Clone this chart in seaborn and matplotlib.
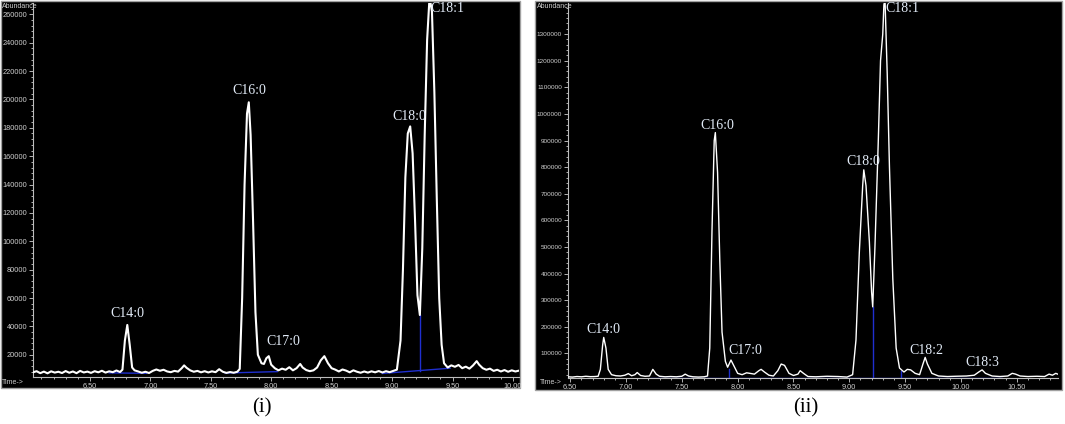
import matplotlib
matplotlib.use("Agg")
import matplotlib.pyplot as plt
from matplotlib.patches import Rectangle
from matplotlib.ticker import MultipleLocator, FixedLocator
import seaborn as sns
import pandas as pd

# ---- panel (i): trace (time in min, abundance) ----
left_time = [
    6.03, 6.06, 6.09, 6.12, 6.15, 6.18, 6.21, 6.24, 6.27, 6.30,
    6.33, 6.36, 6.39, 6.42, 6.45, 6.48, 6.51, 6.54, 6.57, 6.60,
    6.63, 6.66, 6.69, 6.72, 6.75, 6.77, 6.79, 6.81, 6.83, 6.85,
    6.87, 6.90, 6.93, 6.96, 6.99, 7.02, 7.05, 7.08, 7.11, 7.14,
    7.17, 7.20, 7.23, 7.26, 7.28, 7.30, 7.33, 7.36, 7.39, 7.42,
    7.45, 7.48, 7.51, 7.54, 7.57, 7.60, 7.63, 7.66, 7.69, 7.72,
    7.74, 7.76, 7.78, 7.80, 7.815, 7.83, 7.85, 7.87, 7.89, 7.92,
    7.94, 7.96, 7.98, 8.00, 8.03, 8.06, 8.09, 8.12, 8.15, 8.18,
    8.21, 8.24, 8.26, 8.29, 8.32, 8.35, 8.38, 8.41, 8.44, 8.47,
    8.50, 8.53, 8.56, 8.59, 8.62, 8.65, 8.68, 8.71, 8.74, 8.77,
    8.80, 8.83, 8.86, 8.89, 8.92, 8.95, 8.98, 9.01, 9.04, 9.07,
    9.09, 9.11, 9.13, 9.15, 9.17, 9.19, 9.21, 9.23, 9.25, 9.27,
    9.29, 9.31, 9.33, 9.35, 9.37, 9.39, 9.41, 9.43, 9.46, 9.49,
    9.52, 9.55, 9.58, 9.61, 9.64, 9.67, 9.70, 9.72, 9.75, 9.78,
    9.81, 9.84, 9.87, 9.90, 9.93, 9.96, 9.99, 10.02, 10.05,
]
left_abund = [
    7600, 8400, 7000, 8100, 6900, 8300, 7400, 8000, 7100, 8500,
    7300, 8200, 7000, 8600, 7500, 8100, 7200, 8400, 7600, 8700,
    7400, 8300, 7700, 8900, 7800, 9500, 30000, 41000, 27000, 11000,
    9000, 8200, 7300, 8000, 7100, 8600, 9600, 8700, 9400, 8200,
    7700, 8600, 8100, 10500, 12500, 10800, 9000, 8000, 8600, 7600,
    8400, 7500, 8300, 7700, 9800, 8000, 7200, 7800, 7300, 8000,
    10000, 60000, 140000, 190000, 198000, 175000, 115000, 50000, 20000, 14000,
    13500, 17500, 19000, 13000, 10500, 9000, 10200, 9400, 11200, 9000,
    10500, 13500, 11000, 9200, 8400, 9000, 11000, 16000, 19000, 14000,
    10500, 9500, 8200, 9600, 8800, 7600, 9000, 8000, 7300, 8200,
    7400, 8300, 7600, 8500, 7500, 8400, 7700, 8600, 9500, 30000,
    80000, 145000, 176000, 181000, 162000, 115000, 62000, 48000, 95000, 175000,
    242000, 272000, 262000, 205000, 130000, 60000, 27000, 14000, 11000, 12500,
    11500, 12800, 10500, 11600, 10200, 12500, 15500, 13000, 10500, 9400,
    10200, 8600, 9400, 8200, 9200, 8000, 9000, 8200, 8800,
]

# ---- panel (ii) ----
right_time = [
    6.48, 6.52, 6.56, 6.60, 6.64, 6.68, 6.72, 6.75, 6.77, 6.79,
    6.80, 6.82, 6.84, 6.87, 6.91, 6.95, 6.99, 7.02, 7.05, 7.08,
    7.10, 7.13, 7.17, 7.21, 7.24, 7.27, 7.30, 7.35, 7.40, 7.45,
    7.50, 7.53, 7.56, 7.60, 7.65, 7.70, 7.73, 7.75, 7.77, 7.79,
    7.80, 7.82, 7.84, 7.86, 7.89, 7.91, 7.94, 7.97, 8.00, 8.04,
    8.08, 8.11, 8.15, 8.19, 8.21, 8.24, 8.28, 8.32, 8.36, 8.39,
    8.42, 8.46, 8.50, 8.54, 8.56, 8.59, 8.63, 8.70, 8.80, 8.90,
    8.98, 9.03, 9.06, 9.09, 9.12, 9.13, 9.15, 9.18, 9.20, 9.21,
    9.23, 9.26, 9.28, 9.30, 9.31, 9.32, 9.34, 9.36, 9.39, 9.42,
    9.45, 9.49, 9.52, 9.55, 9.59, 9.63, 9.66, 9.68, 9.70, 9.74,
    9.80, 9.88, 9.95, 10.05, 10.12, 10.16, 10.19, 10.22, 10.28, 10.35,
    10.42, 10.46, 10.49, 10.53, 10.60, 10.68, 10.75, 10.79, 10.82, 10.85, 10.88,
]
right_abund = [
    12000, 11000, 13000, 12000, 14000, 12500, 13000, 14000, 40000, 130000,
    160000, 120000, 40000, 20000, 16000, 15000, 18000, 24000, 16000, 20000,
    28000, 17000, 14000, 15000, 40000, 22000, 14000, 12000, 13000, 12000,
    14000, 22000, 15000, 12000, 11000, 12000, 15000, 120000, 560000, 900000,
    930000, 780000, 450000, 180000, 70000, 48000, 75000, 50000, 25000, 20000,
    27000, 25000, 22000, 35000, 40000, 30000, 18000, 15000, 35000, 60000,
    55000, 25000, 17000, 22000, 35000, 25000, 13000, 12000, 14000, 13000,
    11000, 20000, 150000, 480000, 730000, 790000, 730000, 520000, 330000, 275000,
    500000, 900000, 1200000, 1300000, 1410000, 1430000, 1150000, 800000, 380000, 120000,
    45000, 30000, 40000, 38000, 25000, 20000, 60000, 85000, 60000, 25000,
    15000, 13000, 14000, 15000, 18000, 30000, 38000, 25000, 15000, 13000,
    15000, 25000, 22000, 15000, 13000, 14000, 13000, 22000, 18000, 25000, 20000,
]

# integration baselines (blue)
left_base_t = [[6.66, 6.97], [7.62, 8.05], [8.92, 9.48], [9.23, 9.23]]
left_base_y = [[7200, 6900], [7100, 8100], [6800, 10500], [8500, 48000]]
right_base_t = [[7.22, 10.37], [7.92, 7.92], [9.21, 9.21], [9.46, 9.46]]
right_base_y = [[9000, 9000], [9000, 42000], [9000, 275000], [9000, 32000]]

# peak labels
left_peaks = ["C14:0", "C16:0", "C17:0", "C18:0", "C18:1"]
left_label_t = [6.81, 7.82, 8.10, 9.14, 9.32]
left_label_y = [49000, 206000, 29000, 188000, 264000]
right_peaks = ["C14:0", "C16:0", "C17:0", "C18:0", "C18:1", "C18:2", "C18:3"]
right_label_t = [6.80, 7.82, 8.07, 9.13, 9.32, 9.69, 10.19]
right_label_y = [190000, 955000, 112000, 820000, 1395000, 112000, 65000]

W, H = 1065, 424
fig = plt.figure(figsize=(W / 100, H / 100), dpi=100)
fig.patch.set_facecolor("white")

tick_col = "#cfcfcf"
lab_col = "#e2ebf7"


def add_panel(box, ax_box, df, base_t, base_y, names, lt, ly,
              xlim, ylim, yticks, xticks, lw, ysize):
    x0, y0, x1, y1 = box
    fig.add_artist(Rectangle((x0 / W, 1 - y1 / H), (x1 - x0) / W, (y1 - y0) / H,
                             transform=fig.transFigure, facecolor="black",
                             edgecolor="#a0a0a0", linewidth=1, zorder=0))
    a0, b0, a1, b1 = ax_box
    ax = fig.add_axes([a0 / W, 1 - b1 / H, (a1 - a0) / W, (b1 - b0) / H])
    ax.set_facecolor("black")
    for bt, by in zip(base_t, base_y):
        ax.plot(bt, by, color="#1f2fd0", lw=1.0, zorder=2)
    sns.lineplot(data=df, x="time", y="abundance", ax=ax, color="white",
                 lw=lw, estimator=None, sort=False, zorder=3)
    for n, t, y in zip(names, lt, ly):
        ha = "left" if n == "C18:1" else "center"
        ax.text(t, y, n, ha=ha, va="center", color=lab_col, fontsize=10,
                family="Liberation Serif", zorder=4)
    ax.set_xlim(*xlim)
    ax.set_ylim(*ylim)
    ax.set_xlabel("")
    ax.set_ylabel("")
    ax.yaxis.set_major_locator(FixedLocator(yticks))
    ax.set_yticklabels([str(v) for v in yticks])
    ax.xaxis.set_major_locator(FixedLocator(xticks))
    ax.set_xticklabels([f"{v:.2f}" for v in xticks])
    ax.xaxis.set_minor_locator(MultipleLocator(0.1))
    ax.yaxis.set_minor_locator(MultipleLocator((yticks[1] - yticks[0]) / 5))
    ax.tick_params(which="both", colors=tick_col, width=0.6)
    ax.tick_params(axis="x", labelsize=5.3)
    ax.tick_params(axis="y", labelsize=ysize)
    ax.tick_params(which="major", length=3, pad=1.2)
    ax.tick_params(which="minor", length=1.5)
    for lab in ax.get_xticklabels() + ax.get_yticklabels():
        lab.set_family("Liberation Sans")
    for s in ["top", "right"]:
        ax.spines[s].set_visible(False)
    for s in ["left", "bottom"]:
        ax.spines[s].set_color("#bdbdbd")
        ax.spines[s].set_linewidth(0.8)
    return ax


df_left = pd.DataFrame({"time": left_time, "abundance": left_abund})
df_right = pd.DataFrame({"time": right_time, "abundance": right_abund})

add_panel((1, 1, 520, 388), (33, 3, 519, 377), df_left,
          left_base_t, left_base_y, left_peaks, left_label_t, left_label_y,
          (6.03, 10.05), (4300, 268000),
          list(range(20000, 260001, 20000)),
          [6.5, 7.0, 7.5, 8.0, 8.5, 9.0, 9.5, 10.0], 1.5, 5.3)
add_panel((535, 1, 1062, 390), (568, 3, 1058, 378), df_right,
          right_base_t, right_base_y, right_peaks, right_label_t, right_label_y,
          (6.48, 10.87), (7500, 1417000),
          list(range(100000, 1300001, 100000)),
          [6.5, 7.0, 7.5, 8.0, 8.5, 9.0, 9.5, 10.0, 10.5], 1.0, 4.6)

# instrument captions
fig.text(2 / W, 1 - 7 / H, "Abundance", color=tick_col, fontsize=5,
         family="Liberation Sans", va="center")
fig.text(537 / W, 1 - 7 / H, "Abundance", color=tick_col, fontsize=5,
         family="Liberation Sans", va="center")
fig.text(2 / W, 1 - 383 / H, "Time->", color=tick_col, fontsize=5,
         family="Liberation Sans", va="center")
fig.text(540 / W, 1 - 383 / H, "Time->", color=tick_col, fontsize=5,
         family="Liberation Sans", va="center")

fig.text(262 / W, 1 - 408 / H, "(i)", ha="center", va="center", fontsize=15,
         family="Liberation Serif", color="black")
fig.text(806 / W, 1 - 408 / H, "(ii)", ha="center", va="center", fontsize=15,
         family="Liberation Serif", color="black")

fig.savefig("out.png", dpi=100, facecolor="white")
